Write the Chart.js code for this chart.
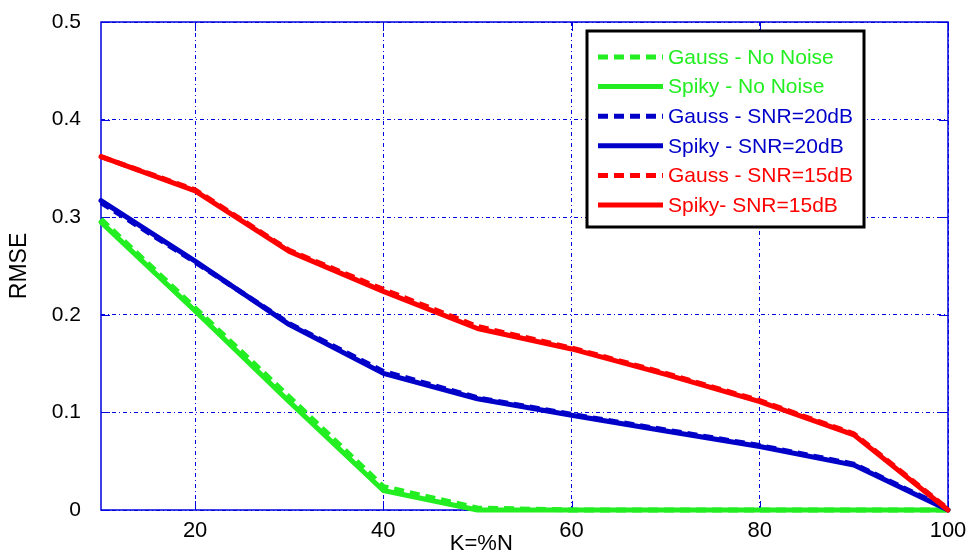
<!DOCTYPE html>
<html><head><meta charset="utf-8">
<script src="https://cdn.jsdelivr.net/npm/chart.js@4"></script>
<style>html,body{margin:0;padding:0;background:#fff;overflow:hidden}#wrap{width:970px;height:553px;position:relative}</style>
</head><body><div id="wrap"><canvas id="c" width="970" height="553"></canvas></div>
<script>
const kPercent = [10, 20, 30, 40, 50, 60, 70, 80, 90, 100];
const gaussNoNoise = [0.298, 0.207, 0.116, 0.024, 0.002, 0, 0, 0, 0, 0];
const spikyNoNoise = [0.295, 0.204, 0.111, 0.020, 0, 0, 0, 0, 0, 0];
const gaussSNR20 = [0.315, 0.254, 0.191, 0.142, 0.115, 0.098, 0.082, 0.066, 0.047, 0.001];
const spikySNR20 = [0.317, 0.255, 0.190, 0.140, 0.114, 0.097, 0.081, 0.065, 0.046, 0];
const gaussSNR15 = [0.362, 0.328, 0.266, 0.226, 0.188, 0.166, 0.140, 0.112, 0.078, 0.001];
const spikySNR15 = [0.362, 0.327, 0.265, 0.224, 0.186, 0.165, 0.139, 0.111, 0.077, 0];
const seriesNames = ['Gauss - No Noise', 'Spiky - No Noise', 'Gauss - SNR=20dB', 'Spiky - SNR=20dB', 'Gauss - SNR=15dB', 'Spiky- SNR=15dB'];
const xTicks = [20, 40, 60, 80, 100];
const yTicks = [0, 0.1, 0.2, 0.3, 0.4, 0.5];
const xTitle = 'K=%N';
const yTitle = 'RMSE';

const GREEN = '#22ee22', BLUE = '#0000c8', RED = '#ff0000', GRID = '#0000e0';
const DASH = [10, 6];
const FONT = "'Liberation Sans', Arial, sans-serif";

function mk(label, data, color, dashed, order) {
  return {
    label, data: kPercent.map((x, i) => ({x, y: data[i]})),
    borderColor: color, backgroundColor: color, borderWidth: 5,
    borderDash: dashed ? DASH : [], pointRadius: 0, tension: 0, fill: false,
    borderJoinStyle: 'round', borderCapStyle: dashed ? 'butt' : 'round', order,
    clip: false
  };
}

const datasets = [
  mk(seriesNames[0], gaussNoNoise, GREEN, true, 6),
  mk(seriesNames[1], spikyNoNoise, GREEN, false, 5),
  mk(seriesNames[2], gaussSNR20, BLUE, true, 4),
  mk(seriesNames[3], spikySNR20, BLUE, false, 3),
  mk(seriesNames[4], gaussSNR15, RED, true, 2),
  mk(seriesNames[5], spikySNR15, RED, false, 1)
];

function noPad(s) { s.paddingTop = 0; s.paddingBottom = 0; s.paddingLeft = 0; s.paddingRight = 0; }

const boxPlugin = {
  id: 'boxPlugin',
  beforeDatasetsDraw(chart) {
    const {ctx, chartArea: a, scales} = chart;
    ctx.save();
    ctx.strokeStyle = GRID; ctx.lineWidth = 1.5; ctx.setLineDash([]);
    ctx.strokeRect(a.left, a.top, a.right - a.left, a.bottom - a.top);
    ctx.lineWidth = 1;
    const L = 9;
    yTicks.forEach(v => {
      const y = Math.round(scales.y.getPixelForValue(v)) + 0.5;
      ctx.beginPath(); ctx.moveTo(a.left, y); ctx.lineTo(a.left + L, y);
      ctx.moveTo(a.right, y); ctx.lineTo(a.right - L, y); ctx.stroke();
    });
    xTicks.forEach(v => {
      const x = Math.round(scales.x.getPixelForValue(v)) + 0.5;
      ctx.beginPath(); ctx.moveTo(x, a.bottom); ctx.lineTo(x, a.bottom - L);
      ctx.moveTo(x, a.top); ctx.lineTo(x, a.top + L); ctx.stroke();
    });
    ctx.restore();
  },
  afterDraw(chart) {
    const {ctx, chartArea: a} = chart;
    ctx.save();
    ctx.fillStyle = '#000'; ctx.font = '22px ' + FONT;
    ctx.textAlign = 'center'; ctx.textBaseline = 'alphabetic';
    ctx.fillText(xTitle, a.left + (a.right - a.left) * 0.449, 550);
    const bx = a.right - 361, by = a.top + 9, bw = 277, bh = 196;
    ctx.fillStyle = '#fff'; ctx.fillRect(bx, by, bw, bh);
    ctx.strokeStyle = '#000'; ctx.lineWidth = 3; ctx.setLineDash([]);
    ctx.strokeRect(bx, by, bw, bh);
    ctx.font = '21px ' + FONT; ctx.textAlign = 'left'; ctx.textBaseline = 'middle';
    chart.data.datasets.forEach((ds, i) => {
      const y = by + 26 + i * 29.6;
      ctx.strokeStyle = ds.borderColor; ctx.lineWidth = 5; ctx.lineCap = 'butt';
      ctx.setLineDash(ds.borderDash);
      ctx.beginPath(); ctx.moveTo(bx + 11, y); ctx.lineTo(bx + 76, y); ctx.stroke();
      ctx.setLineDash([]);
      ctx.fillStyle = ds.borderColor;
      ctx.fillText(ds.label, bx + 81, y + 1);
    });
    ctx.restore();
  }
};

new Chart(document.getElementById('c'), {
  type: 'line',
  data: {datasets},
  plugins: [boxPlugin],
  options: {
    responsive: false, animation: false, devicePixelRatio: 1,
    layout: {padding: {top: 22, right: 22, left: 0, bottom: 0}},
    plugins: {legend: {display: false}, tooltip: {enabled: false}},
    scales: {
      x: {
        type: 'linear', min: 10, max: 100,
        afterBuildTicks: s => { s.ticks = xTicks.map(v => ({value: v})); },
        afterFit: s => { s.height = 43; noPad(s); },
        grid: {color: GRID, lineWidth: 1, drawTicks: false},
        border: {display: false, dash: [4, 3, 1, 3]},
        ticks: {autoSkip: false, maxRotation: 0, padding: 8, color: '#000', font: {family: FONT, size: 22}}
      },
      y: {
        min: 0, max: 0.5,
        afterBuildTicks: s => { s.ticks = yTicks.map(v => ({value: v})); },
        afterFit: s => { s.width = 101; noPad(s); },
        grid: {color: GRID, lineWidth: 1, drawTicks: false},
        border: {display: false, dash: [4, 3, 1, 3]},
        ticks: {padding: 20, color: '#000', font: {family: FONT, size: 21}, callback: v => String(v)},
        title: {display: true, text: yTitle, color: '#000', font: {family: FONT, size: 23}, padding: {top: 6, bottom: 0}}
      }
    }
  }
});
</script></body></html>
